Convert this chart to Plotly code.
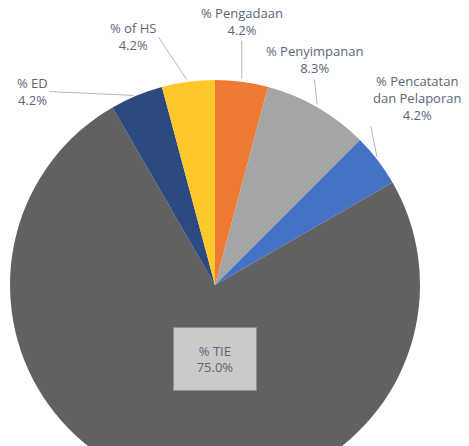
import math
import plotly.graph_objects as go

# Datos del gráfico
LABELS = ["% Pengadaan", "% Penyimpanan", "% Pencatatan dan Pelaporan", "% TIE", "% ED", "% of HS"]
TEXTOS = ["% Pengadaan", "% Penyimpanan", "% Pencatatan<br>dan Pelaporan", "% TIE", "% ED", "% of HS"]
VALORES = [1, 2, 1, 18, 1, 1]
COLORES = ["#EE7A33", "#A5A5A5", "#4672C6", "#616161", "#2D4A80", "#FFC82A"]

TEXT_COLOR = "#5B6577"
LINE_COLOR = "#AEB8C6"

W, H = 469, 500
CX, CY, R = 215, 285, 205   # centro y radio del pastel en px

# posicion de cada etiqueta: (ax, ay, xanchor, yanchor)
ETIQUETAS = {
    "% Pengadaan": (0, -41, "center", "bottom"),
    "% Penyimpanan": (-3, -28, "center", "bottom"),
    "% Pencatatan dan Pelaporan": (-7, -34, "left", "bottom"),
    "% ED": (-87, -4, "right", "middle"),
    "% of HS": (-30, -45, "right", "middle"),
}

fig = go.Figure(go.Pie(
    labels=LABELS, values=VALORES, sort=False, direction="clockwise", rotation=0,
    marker=dict(colors=COLORES, line=dict(width=0)),
    textinfo="none", hoverinfo="label+percent", showlegend=False,
    domain=dict(x=[(CX - R) / W, (CX + R) / W], y=[(H - CY - R) / H, (H - CY + R) / H]),
))

total = sum(VALORES)
acum = 0
anotaciones = []
for lab, txt, v in zip(LABELS, TEXTOS, VALORES):
    mid = (acum + v / 2) / total * 2 * math.pi
    acum += v
    pct = f"{v / total * 100:.1f}%"
    px_x = CX + R * math.sin(mid)
    px_y = CY - R * math.cos(mid)
    if lab in ETIQUETAS:
        ax, ay, xa, ya = ETIQUETAS[lab]
        anotaciones.append(dict(
            x=px_x / W, y=1 - px_y / H, xref="paper", yref="paper",
            text=f"{txt}<br>{pct}", showarrow=True, arrowhead=0, arrowwidth=1,
            arrowcolor=LINE_COLOR, standoff=3, ax=ax, ay=ay,
            xanchor=xa, yanchor=ya, align="center",
            font=dict(color=TEXT_COLOR, size=13, family="Open Sans"),
        ))
    else:
        anotaciones.append(dict(
            x=CX / W, y=1 - 359 / H, xref="paper", yref="paper",
            xanchor="center", yanchor="middle",
            text=f"{txt}<br>{pct}", showarrow=False, align="center",
            width=80, height=60, bgcolor="#CACACA", bordercolor="#8E8E8E", borderwidth=1,
            font=dict(color=TEXT_COLOR, size=13, family="Open Sans"),
        ))

fig.update_layout(
    width=W, height=H, margin=dict(l=0, r=0, t=0, b=0),
    paper_bgcolor="white", plot_bgcolor="white",
    annotations=anotaciones,
)

fig.write_html("out.html", config={"displayModeBar": False},
               post_script="document.body.style.margin='0';document.body.style.overflow='hidden';")
